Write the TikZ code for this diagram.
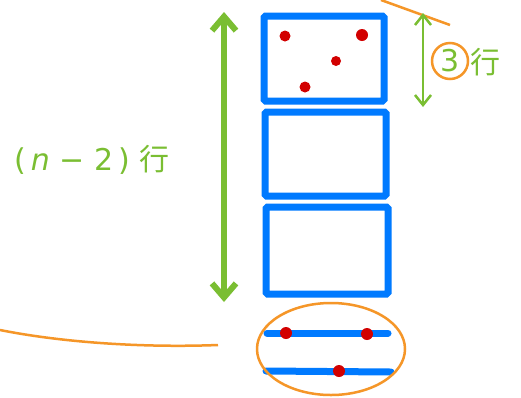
\documentclass[tikz,border=0pt]{standalone}
\usepackage{fontspec}
\setmainfont{DejaVu Sans}
\newfontfamily\cjk{Noto Sans CJK SC}
\usetikzlibrary{arrows.meta,shapes.geometric}
\definecolor{gr}{RGB}{122,190,50}
\definecolor{bl}{RGB}{0,122,255}
\definecolor{rd}{RGB}{210,0,0}
\definecolor{og}{RGB}{245,150,40}
\begin{document}
\begin{tikzpicture}[x=1pt,y=-1pt,
  blk/.style={draw=bl,line width=7pt,rounded corners=1.5pt},
  bline/.style={draw=bl,line width=7pt,line cap=round},
  dot/.style={circle,fill=rd,inner sep=0pt,minimum size=11pt},
  ornl/.style={draw=og,line width=2.5pt},
  lbl/.style={text=gr,inner sep=0pt,font=\fontsize{30}{30}\selectfont}]
\useasboundingbox (0,0) rectangle (521,397);
\fill[white] (0,0) rectangle (521,397);
% boxes
\draw[blk] (264,16) rectangle (384,101);
\draw[blk] (265,112) rectangle (386,196);
\draw[blk] (266,207) rectangle (388,294);
% lines
\coordinate (l1a) at (267,333); \coordinate (l1b) at (388,333);
\coordinate (l2a) at (266,371); \coordinate (l2b) at (391,372);
\draw[bline] (l1a) -- (l1b);
\draw[bline] (l2a) -- (l2b);
% dots
\node[dot] (d1) at (285,36) {};
\node[dot,minimum size=12pt] (d2) at (362,35) {};
\node[dot,minimum size=10pt] (d3) at (336,61) {};
\node[dot] (d4) at (305,87) {};
\node[dot,minimum size=12pt] (d5) at (286,333) {};
\node[dot,minimum size=12pt] (d6) at (367,334) {};
\node[dot,minimum size=12pt] (d7) at (339,371) {};
% ellipse
\node[ornl,ellipse,minimum width=148pt,minimum height=92pt,inner sep=0pt] (ell) at (331,349) {};
% orange curves
\coordinate (c1) at (0,330); \coordinate (c2) at (218,345);
\draw[ornl] (c1) .. controls (60,342) and (140,348) .. (c2);
\coordinate (c3) at (381,0); \coordinate (c4) at (450,25);
\draw[ornl] (c3) -- (c4);
% green arrows
\coordinate (a1) at (224,12); \coordinate (a2) at (224,302);
\draw[gr,line width=6pt,line cap=round,{Straight Barb[length=14pt,width=24pt,line width=6pt]}-{Straight Barb[length=14pt,width=24pt,line width=6pt]}] (a1) -- (a2);
\coordinate (a3) at (423,13); \coordinate (a4) at (423,107);
\draw[gr,line width=2.5pt,line cap=round,{Straight Barb[length=10pt,width=16pt,line width=2.5pt]}-{Straight Barb[length=10pt,width=16pt,line width=2.5pt]}] (a3) -- (a4);
% labels
\node[lbl] (t3) at (450,61) {3};
\draw[og,line width=2.5pt] (t3) circle (18pt);
\node[lbl,font=\cjk\fontsize{30}{30}\selectfont] (hang) at (485,62) {行};
\node[lbl,anchor=west] (nlab) at (14,160) {(\,\textit{n} − 2\,)\,\,{\cjk 行}};
\end{tikzpicture}
\end{document}
